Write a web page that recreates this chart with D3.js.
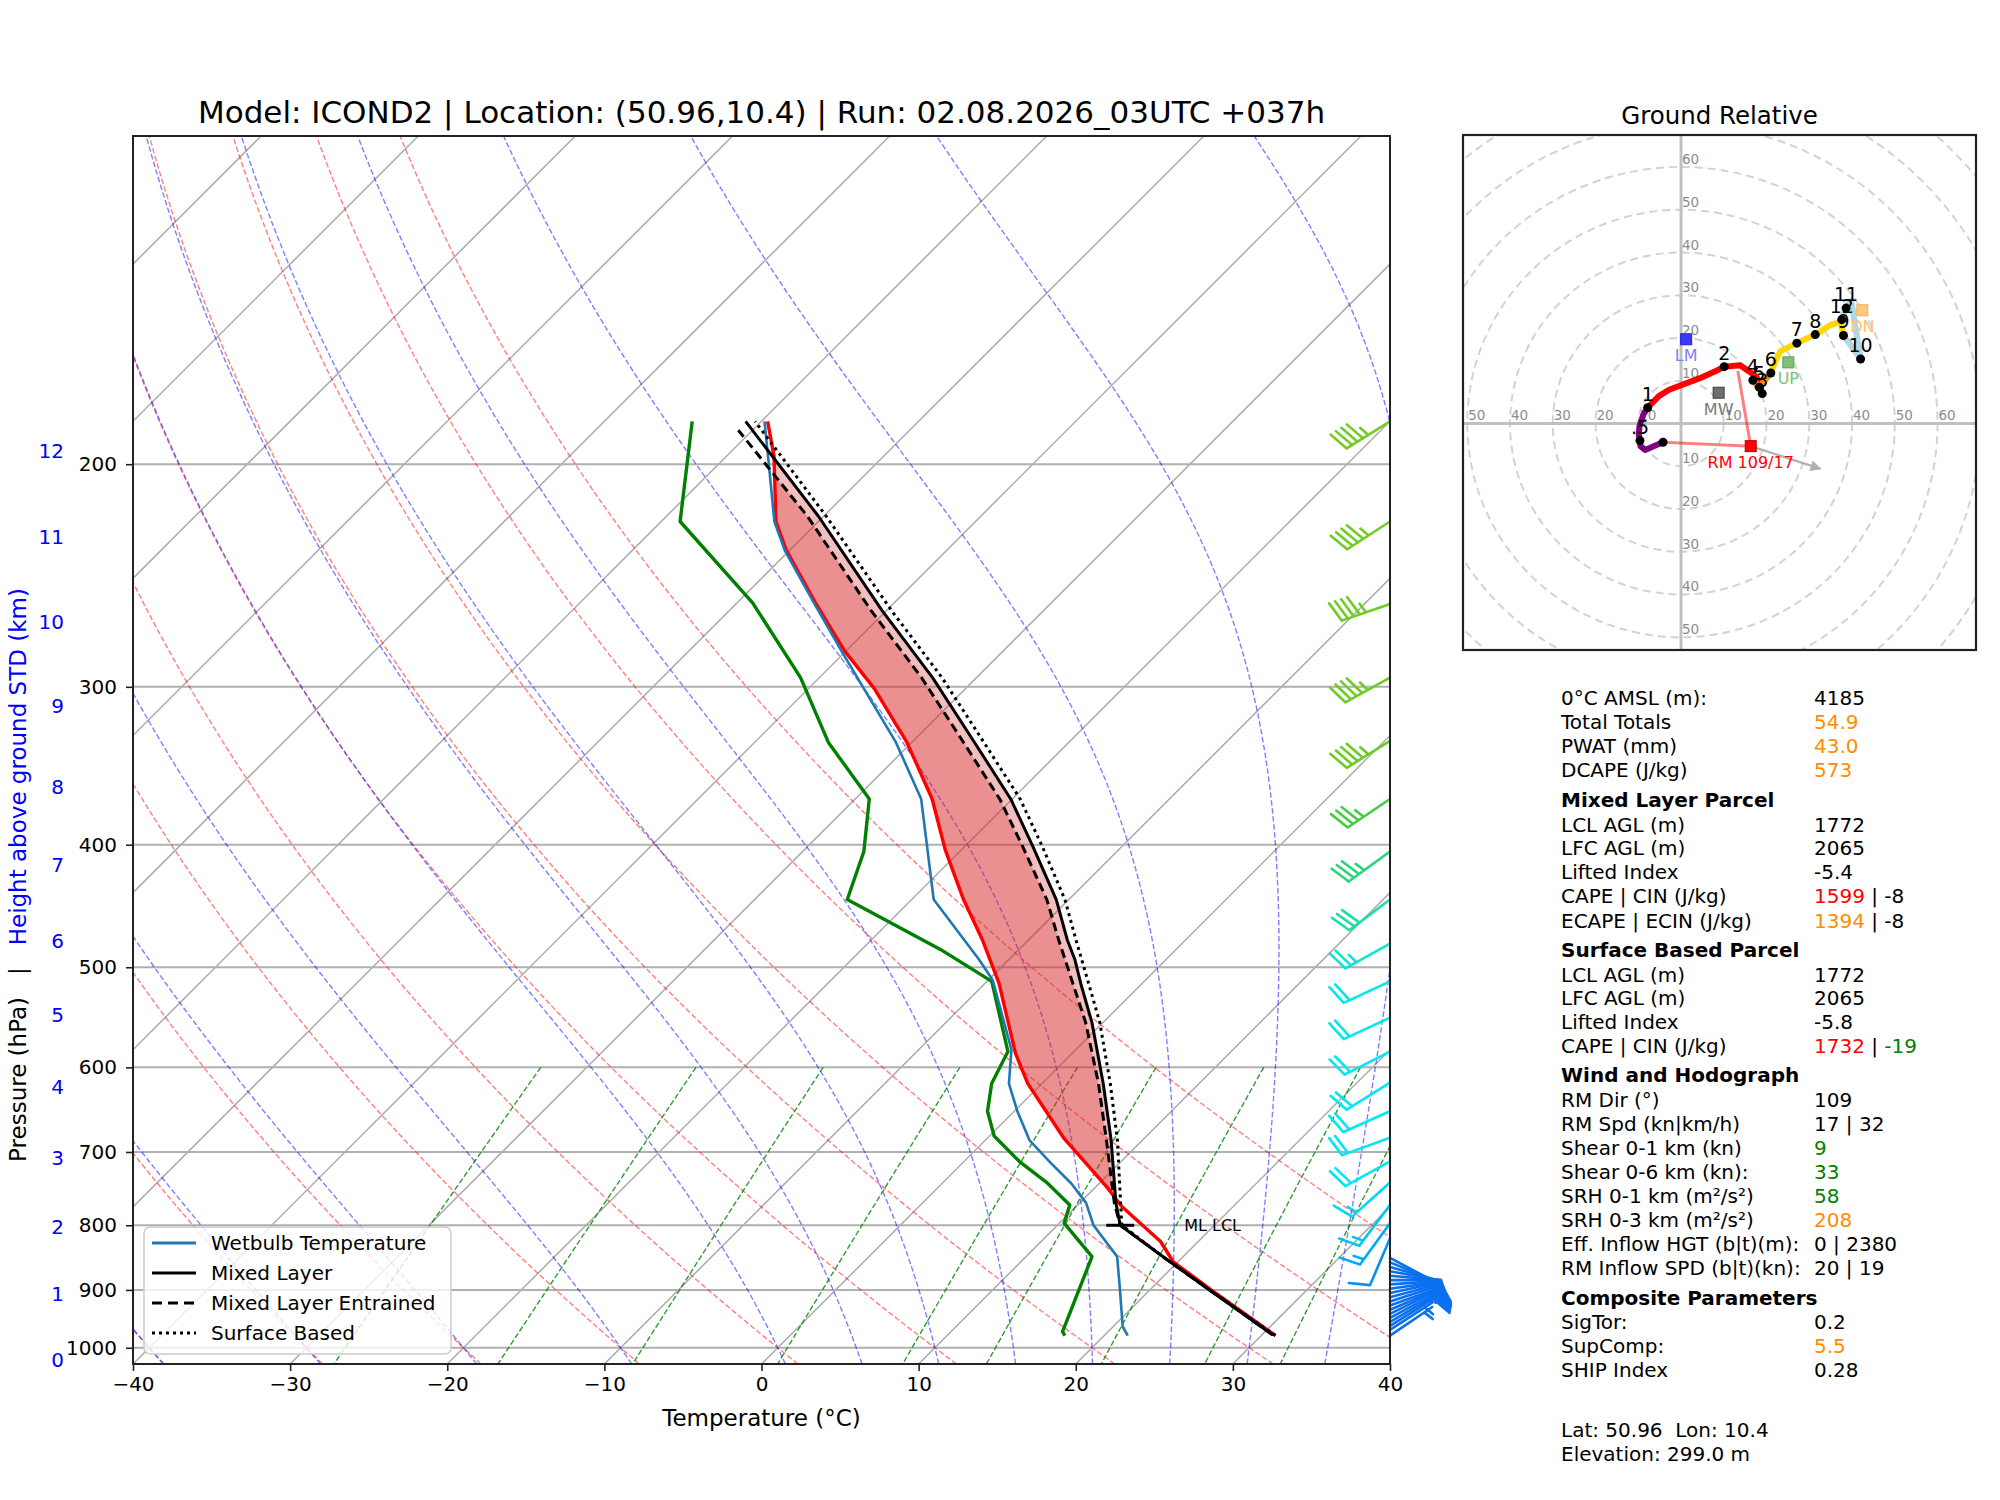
<!DOCTYPE html>
<html>
<head>
<meta charset="utf-8">
<script src="https://cdn.jsdelivr.net/npm/d3@7"></script>
<style>
  body { margin: 0; background: #fff; }
  svg text { font-family: "DejaVu Sans", sans-serif; }
</style>
</head>
<body>
<div class="container"></div>
<script>
const tempP = [978, 900, 855, 824, 773, 746, 683, 618, 585, 515, 476, 442, 404, 368, 332, 301, 281, 257.5, 234, 222, 197, 185];
const tempT = [30.9, 23.9, 19.7, 17.6, 12.9, 10.7, 4.9, -0.9, -3.6, -9.1, -12.9, -16.7, -21.0, -25.1, -30.3, -35.8, -40.1, -45.0, -50.2, -52.7, -57.0, -59.6];

const dewP = [978, 971, 847, 797, 771, 741, 712, 680, 650, 618, 583, 513, 484, 475, 442, 405, 368, 332, 295, 257.5, 222, 185];
const dewT = [17.5, 17.1, 14.2, 10.3, 9.5, 6.7, 3.5, 0.3, -1.7, -3.2, -4.2, -9.7, -15.0, -16.9, -24.1, -26.1, -29.1, -35.3, -41.2, -49.0, -58.8, -64.4];

const wbP = [978, 962, 900, 847, 800, 768, 741, 714, 685, 650, 618, 581, 512, 493, 442, 368, 332, 281, 257.5, 234, 222, 200, 185];
const wbT = [21.5, 20.6, 18.1, 15.8, 12.3, 10.4, 8.2, 5.6, 2.8, 0.2, -2.1, -4.1, -9.7, -11.9, -18.6, -25.8, -31.0, -40.3, -45.1, -50.3, -52.8, -56.8, -59.8];

const mlP = [977, 900, 850, 800, 768, 685, 618, 553, 515, 493, 476, 442, 401, 368, 332, 295, 261, 220, 185];
const mlT = [30.7, 23.8, 19.0, 14.0, 12.3, 8.0, 3.9, -0.7, -3.9, -5.8, -7.5, -10.8, -15.7, -20.1, -26.0, -32.8, -40.3, -50.3, -61.0];

const mlEntP = [977, 900, 850, 800, 768, 685, 618, 553, 515, 476, 442, 401, 368, 332, 295, 261, 220, 188];
const mlEntT = [30.7, 23.8, 19.0, 14.0, 12.2, 7.7, 3.6, -1.1, -4.4, -8.05, -11.4, -16.35, -20.8, -26.7, -33.5, -41.0, -51.0, -60.9];

const sbP = [978, 900, 850, 800, 768, 685, 618, 553, 515, 476, 442, 401, 368, 332, 295, 261, 220, 185];
const sbT = [30.9, 23.8, 19.0, 14.1, 12.6, 8.4, 4.35, -0.2, -3.4, -6.95, -10.25, -15.1, -19.5, -25.4, -32.2, -39.7, -49.8, -60.4];

const mlLcl = [800, 14.0];

const windP = [185, 222, 258, 295, 331, 368, 405, 442, 479, 513, 548, 583, 617, 650, 682, 712, 740, 771, 797, 819,
               849, 856, 863, 870, 877, 884, 891, 898, 905, 912, 919, 926, 933, 940, 947, 954, 961, 968, 978];
const windDir = [238, 237, 251, 241, 238, 236, 234, 233, 241, 245, 245, 243, 238, 246, 250, 241, 228, 217, 216, 203,
                 118, 112, 106, 100, 95, 90, 86, 82, 78, 75, 72, 70, 67, 64, 62, 60, 58, 57, 56];
const windSpd = [45, 45, 45, 45, 45, 35, 35, 30, 25, 20, 20, 20, 20, 20, 20, 20, 15, 15, 15, 10,
                 10, 10, 10, 10, 10, 10, 10, 10, 10, 10, 10, 10, 10, 10, 10, 10, 10, 5, 5];

const heightKm = [0, 1, 2, 3, 4, 5, 6, 7, 8, 9, 10, 11, 12];
const heightP = [1013.25, 898.8, 795.0, 701.1, 616.6, 540.5, 472.2, 411.1, 356.5, 308.0, 264.4, 226.3, 193.3];

const pressureTicks = [200, 300, 400, 500, 600, 700, 800, 900, 1000];
const tempTicks = [-40, -30, -20, -10, 0, 10, 20, 30, 40];

// hodograph (kn)
const hodoH = [0, 0.15, 0.3, 0.4, 0.5, 0.6, 0.7, 0.85, 1, 1.2, 1.4, 1.7, 1.9, 2, 2.3, 2.6, 2.8, 3, 4, 5, 6, 6.3, 6.6, 7, 8, 8.5, 8.8, 9, 10, 10.5, 11, 12];
const hodoU = [-4.2, -6.8, -8.4, -9.5, -9.6, -9.9, -9.7, -8.8, -7.8, -5.2, -2.8, 4.4, 8.0, 10.1, 13.8, 16.2, 17.7, 19.0, 16.8, 18.3, 21.0, 22.0, 23.2, 27.1, 31.4, 34.9, 37.3, 38.0, 42.0, 39.8, 38.6, 37.6];
const hodoV = [-4.4, -5.5, -6.2, -5.3, -4.0, -2.6, -0.5, 2.1, 3.7, 6.4, 7.9, 10.6, 12.2, 13.3, 13.6, 12.0, 10.8, 7.0, 10.1, 8.5, 11.8, 14.4, 16.9, 18.8, 20.8, 23.0, 23.8, 20.6, 15.1, 28.8, 27.0, 24.3];
const hodoDotH = [0, 0.5, 1, 2, 3, 4, 5, 6, 7, 8, 9, 10, 11, 12];
const hodoDotLabel = ['', '.5', '1', '2', '3', '4', '5', '6', '7', '8', '9', '10', '11', '12'];
const hodoLayers = [0, 1, 3, 6, 9, 12];
const hodoColors = ['purple', 'red', 'darkorange', 'gold', 'lightblue'];

const motionNames = ['LM', 'MW', 'UP', 'DN', 'RM'];
const motionU = [1.2, 8.8, 25.1, 42.4, 16.3];
const motionV = [19.7, 7.2, 14.3, 26.5, -5.3];
const rmLabel = 'RM 109/17';
const inflowTop = [13.3, 12.3];

// ---- setup ----
const w = 2000, h = 1500;
const [plotLeft, plotRight, plotTop, plotBottom] = [133, 1390, 136, 1364];

const svg = d3.select('.container').append('svg')
  .attr('width', w).attr('height', h);
svg.append('rect').attr('width', w).attr('height', h).attr('fill', '#fff');

const x = d3.scaleLinear().domain([-40, 40]).range([plotLeft, plotRight]);
const y = d3.scaleLog().domain([1030, 110]).range([plotBottom, plotTop]);
// 45 degree skew in pixel space
const sx = (t, p) => x(t) + (plotBottom - y(p));

const defs = svg.append('defs');
defs.append('clipPath').attr('id', 'plotClip').append('rect')
  .attr('x', plotLeft).attr('y', plotTop)
  .attr('width', plotRight - plotLeft).attr('height', plotBottom - plotTop);

const plot = svg.append('g').attr('clip-path', 'url(#plotClip)');
const skewLine = d3.line().x(d => sx(d[1], d[0])).y(d => y(d[0]));
const zip = (ps, ts) => ps.map((p, i) => [p, ts[i]]);

// background lines
const pGrid = d3.range(0, 81).map(i => 1030 * Math.pow(110 / 1030, i / 80));

// isotherms
d3.range(-140, 41, 10).forEach(t => {
  plot.append('line')
    .attr('x1', sx(t, 1030)).attr('y1', y(1030))
    .attr('x2', sx(t, 110)).attr('y2', y(110))
    .attr('stroke', '#ababab').attr('stroke-width', 1.5);
});
// isobars
pressureTicks.forEach(p => {
  plot.append('line')
    .attr('x1', plotLeft).attr('x2', plotRight)
    .attr('y1', y(p)).attr('y2', y(p))
    .attr('stroke', '#b0b0b0').attr('stroke-width', 2);
});

// dry adiabats
d3.range(-40, 51, 10).forEach(t0 => {
  const pts = pGrid.map(p => [p, (t0 + 273.15) * Math.pow(p / 1000, 0.28571) - 273.15]);
  plot.append('path').attr('d', skewLine(pts)).attr('fill', 'none')
    .attr('stroke', 'red').attr('stroke-opacity', 0.5).attr('stroke-width', 1.4)
    .attr('stroke-dasharray', '5.5,2.5');
});

// moist adiabats (pseudo-adiabatic lapse, RK4 from 1000 hPa)
const Rd = 287.04749, Cpd = 1004.6662, Lv = 2.50084e6, eps = 0.62196;
const satMix = (p, T) => {
  const es = 6.112 * Math.exp(17.67 * (T - 273.15) / (T - 29.65));
  return eps * es / (p - es);
};
const moistDT = (p, T) => {
  const rs = satMix(p, T);
  return (Rd * T + Lv * rs) / (Cpd + Lv * Lv * rs * eps / (Rd * T * T)) / p;
};
const rk4 = (p, T, dp) => {
  const k1 = moistDT(p, T);
  const k2 = moistDT(p + dp / 2, T + dp / 2 * k1);
  const k3 = moistDT(p + dp / 2, T + dp / 2 * k2);
  const k4 = moistDT(p + dp, T + dp * k3);
  return T + dp / 6 * (k1 + 2 * k2 + 2 * k3 + k4);
};
[-40, -30, -20, -10, 0, 5, 10, 15, 20, 25, 30, 35, 40].forEach(t0 => {
  const up = [[1000, t0 + 273.15]];
  let p = 1000, T = t0 + 273.15;
  while (p > 110) { T = rk4(p, T, -5); p -= 5; up.push([p, T]); }
  const down = [];
  p = 1000; T = t0 + 273.15;
  while (p < 1030) { T = rk4(p, T, 5); p += 5; down.push([p, T]); }
  const pts = down.reverse().concat(up).map(d => [d[0], d[1] - 273.15]);
  plot.append('path').attr('d', skewLine(pts)).attr('fill', 'none')
    .attr('stroke', 'blue').attr('stroke-opacity', 0.5).attr('stroke-width', 1.4)
    .attr('stroke-dasharray', '5.5,2.5');
});

// mixing ratio lines
[0.0004, 0.001, 0.002, 0.004, 0.007, 0.01, 0.016, 0.024, 0.032].forEach(wr => {
  const pts = d3.range(0, 41).map(i => {
    const p = 600 + i * (430 / 40);
    const e = p * wr / (eps + wr);
    const l = Math.log(e / 6.112);
    return [p, 243.5 * l / (17.67 - l)];
  });
  plot.append('path').attr('d', skewLine(pts)).attr('fill', 'none')
    .attr('stroke', 'green').attr('stroke-opacity', 0.8).attr('stroke-width', 1.4)
    .attr('stroke-dasharray', '5.5,2.5');
});

// CAPE shading
const interp = (ps, ts) => p => {
  for (let i = 0; i < ps.length - 1; i++) {
    if (p <= ps[i] && p >= ps[i + 1]) {
      const f = Math.log(ps[i] / p) / Math.log(ps[i] / ps[i + 1]);
      return ts[i] + f * (ts[i + 1] - ts[i]);
    }
  }
  return null;
};
const envT = interp(tempP, tempT);
const shade = (ps, ts) => {
  const parcel = interp(ps, ts);
  const top = ps[ps.length - 1];
  const grid = d3.range(0, 401).map(i => 800 * Math.pow(top / 800, i / 400));
  const rows = grid.map(p => ({ p, te: envT(p), tp: parcel(p) }));
  const area = d3.area()
    .y(d => y(d.p))
    .x0(d => sx(d.te, d.p))
    .x1(d => sx(Math.max(d.te, d.tp), d.p));
  plot.append('path').attr('d', area(rows))
    .attr('fill', '#d62728').attr('fill-opacity', 0.3);
};
shade(mlP, mlT);
shade(mlEntP, mlEntT);

// profiles
const drawProfile = (ps, ts, color, width, dash) => {
  const path = plot.append('path').attr('d', skewLine(zip(ps, ts)))
    .attr('fill', 'none').attr('stroke', color).attr('stroke-width', width)
    .attr('stroke-linejoin', 'round');
  if (dash) path.attr('stroke-dasharray', dash);
};
drawProfile(tempP, tempT, 'red', 3.4);
drawProfile(dewP, dewT, 'green', 3.4);
drawProfile(wbP, wbT, '#1f77b4', 2.6);
drawProfile(mlP, mlT, 'black', 3);
drawProfile(mlEntP, mlEntT, 'black', 3, '9,5');
drawProfile(sbP, sbT, 'black', 3, '3,4');

// ML LCL marker
svg.append('line')
  .attr('x1', sx(mlLcl[1], mlLcl[0]) - 14).attr('x2', sx(mlLcl[1], mlLcl[0]) + 14)
  .attr('y1', y(mlLcl[0])).attr('y2', y(mlLcl[0]))
  .attr('stroke', 'black').attr('stroke-width', 3);
svg.append('text').attr('x', sx(mlLcl[1], mlLcl[0]) + 64).attr('y', y(mlLcl[0]) + 6)
  .attr('font-size', 16).text('ML LCL');

// wind barbs
const barbColor = d3.scaleLinear()
  .domain([185, 331, 368, 405, 442, 479, 513, 712, 740, 771, 797, 819, 849, 978])
  .range(['#74cc26', '#6ccc26', '#46cc44', '#2ad47a', '#1cdca8', '#0ee4d0', '#00e8ec', '#00e8f4',
          '#00d8f8', '#00c4f8', '#00aaf8', '#0890f0', '#0a70f0', '#0a70f0']);
const drawBarb = (bx, by, dir, spd, color) => {
  const L = 51, fullH = 0.4 * L, spacing = 0.125 * L, halfW = 0.125 * L;
  const r = dir * Math.PI / 180;
  const s = [Math.sin(r), -Math.cos(r)];
  const n = [-s[1], s[0]];
  const at = (o, hgt, out) => [bx + s[0] * (o + out) + n[0] * hgt, by + s[1] * (o + out) + n[1] * hgt];
  let v = Math.round(spd / 5) * 5;
  const flags = Math.floor(v / 50); v -= flags * 50;
  const fulls = Math.floor(v / 10); v -= fulls * 10;
  const half = v >= 5;
  let d = `M${bx},${by}L${at(L, 0, 0)}`;
  let o = L;
  for (let i = 0; i < fulls; i++) {
    d += `M${at(o, 0, 0)}L${at(o, fullH, halfW)}`;
    o -= spacing;
  }
  if (half) {
    if (o === L) o -= 1.5 * spacing;
    d += `M${at(o, 0, 0)}L${at(o, fullH / 2, halfW / 2)}`;
  }
  svg.append('path').attr('d', d).attr('fill', 'none').attr('stroke', color)
    .attr('stroke-width', 2.6).attr('stroke-linecap', 'round');
};
windP.forEach((p, i) => drawBarb(plotRight, y(p), windDir[i], windSpd[i], barbColor(p)));

// axes frame
svg.append('rect').attr('x', plotLeft).attr('y', plotTop)
  .attr('width', plotRight - plotLeft).attr('height', plotBottom - plotTop)
  .attr('fill', 'none').attr('stroke', '#222').attr('stroke-width', 2);

const xAxis = svg.append('g').attr('transform', `translate(0,${plotBottom})`)
  .call(d3.axisBottom(x).tickValues(tempTicks).tickSize(7).tickPadding(6));
const yAxis = svg.append('g').attr('transform', `translate(${plotLeft},0)`)
  .call(d3.axisLeft(y).tickValues(pressureTicks).tickFormat(d3.format('d')).tickSize(7).tickPadding(9));
[xAxis, yAxis].forEach(g => {
  g.select('.domain').remove();
  g.selectAll('line').attr('stroke', '#222').attr('stroke-width', 1.6);
  g.selectAll('text').attr('font-size', 20).attr('fill', '#000')
    .style('font-family', '"DejaVu Sans", sans-serif');
});

svg.append('text').attr('x', (plotLeft + plotRight) / 2).attr('y', 1426)
  .attr('text-anchor', 'middle').attr('font-size', 23).text('Temperature (°C)');

// height labels
svg.selectAll('.hlab').data(heightKm).enter().append('text')
  .attr('x', 64).attr('y', (d, i) => y(heightP[i]) + 12)
  .attr('text-anchor', 'end').attr('font-size', 20).attr('fill', 'blue')
  .text(d => d);

const ylab = svg.append('text').attr('transform', 'translate(26,875) rotate(-90)')
  .attr('text-anchor', 'middle').attr('font-size', 23).attr('xml:space', 'preserve');
ylab.append('tspan').text('Pressure (hPa)   |   ');
ylab.append('tspan').attr('fill', 'blue').text('Height above ground STD (km)');

svg.append('text').attr('x', (plotLeft + plotRight) / 2).attr('y', 123)
  .attr('text-anchor', 'middle').attr('font-size', 31)
  .text('Model: ICOND2 | Location: (50.96,10.4) | Run: 02.08.2026_03UTC +037h');

// legend
const legend = svg.append('g');
legend.append('rect').attr('x', 144).attr('y', 1227).attr('width', 307).attr('height', 127)
  .attr('rx', 6).attr('fill', '#fff').attr('fill-opacity', 0.8)
  .attr('stroke', '#cccccc').attr('stroke-width', 1.5);
const legendItems = [
  ['Wetbulb Temperature', '#1f77b4', null],
  ['Mixed Layer', 'black', null],
  ['Mixed Layer Entrained', 'black', '10,6'],
  ['Surface Based', 'black', '3,4']
];
legendItems.forEach((it, i) => {
  const ly = 1243 + i * 30;
  const ln = legend.append('line').attr('x1', 152).attr('x2', 196).attr('y1', ly).attr('y2', ly)
    .attr('stroke', it[1]).attr('stroke-width', 3);
  if (it[2]) ln.attr('stroke-dasharray', it[2]);
  legend.append('text').attr('x', 211).attr('y', ly + 7).attr('font-size', 20).text(it[0]);
});

// ---- hodograph ----
const [hLeft, hRight, hTop, hBottom] = [1463, 1976, 135, 650];
const hx = d3.scaleLinear().domain([-51, 69]).range([hLeft, hRight]);
const hy = d3.scaleLinear().domain([-53, 67.5]).range([hBottom, hTop]);
const kpx = hx(1) - hx(0);
defs.append('clipPath').attr('id', 'hodoClip').append('rect')
  .attr('x', hLeft).attr('y', hTop).attr('width', hRight - hLeft).attr('height', hBottom - hTop);
const hodo = svg.append('g').attr('clip-path', 'url(#hodoClip)');

d3.range(10, 91, 10).forEach(r => {
  hodo.append('circle').attr('cx', hx(0)).attr('cy', hy(0)).attr('r', r * kpx)
    .attr('fill', 'none').attr('stroke', '#d3d3d3').attr('stroke-width', 2)
    .attr('stroke-dasharray', '8,5');
});
hodo.append('line').attr('x1', hLeft).attr('x2', hRight).attr('y1', hy(0)).attr('y2', hy(0))
  .attr('stroke', '#c0c0c0').attr('stroke-width', 3);
hodo.append('line').attr('x1', hx(0)).attr('x2', hx(0)).attr('y1', hTop).attr('y2', hBottom)
  .attr('stroke', '#c0c0c0').attr('stroke-width', 3);
d3.range(10, 61, 10).forEach(r => {
  [[r, 0], [-r, 0], [0, r], [0, -r]].forEach(([u, v]) => {
    if (u < -51 || v < -53) return;
    hodo.append('text').attr('x', hx(u) + 1).attr('y', hy(v) - 3)
      .attr('font-size', 13.5).attr('fill', '#8c8c8c').text(r);
  });
});

// inflow lines
const rm = [motionU[4], motionV[4]];
const hodoLine = d3.line().x(d => hx(d[0])).y(d => hy(d[1]));
hodo.append('path').attr('d', hodoLine([[hodoU[0], hodoV[0]], rm, inflowTop]))
  .attr('fill', 'none').attr('stroke', 'red').attr('stroke-opacity', 0.5).attr('stroke-width', 3);

const hodoPts = hodoH.map((hh, i) => [hodoU[i], hodoV[i], hh]);
hodoColors.forEach((c, k) => {
  const seg = hodoPts.filter(d => d[2] >= hodoLayers[k] && d[2] <= hodoLayers[k + 1]);
  hodo.append('path').attr('d', hodoLine(seg)).attr('fill', 'none')
    .attr('stroke', c).attr('stroke-width', 6)
    .attr('stroke-linejoin', 'round').attr('stroke-linecap', 'round');
});

hodoDotH.forEach((hh, i) => {
  const j = hodoH.indexOf(hh);
  const px = hx(hodoU[j]), py = hy(hodoV[j]);
  hodo.append('circle').attr('cx', px).attr('cy', py).attr('r', 4.5).attr('fill', 'black');
  hodo.append('text').attr('x', px).attr('y', py - 7).attr('text-anchor', 'middle')
    .attr('font-size', 19).text(hodoDotLabel[i]);
});

// storm motion arrow
const arrowEnd = [rm[0] * 2, rm[1] * 2];
defs.append('marker').attr('id', 'arrowHead').attr('viewBox', '0 0 10 10')
  .attr('refX', 9).attr('refY', 5).attr('markerWidth', 5).attr('markerHeight', 5)
  .attr('orient', 'auto').append('path').attr('d', 'M0,0L10,5L0,10z').attr('fill', '#b0b0b0');
hodo.append('line').attr('x1', hx(rm[0])).attr('y1', hy(rm[1]))
  .attr('x2', hx(arrowEnd[0])).attr('y2', hy(arrowEnd[1]))
  .attr('stroke', '#b0b0b0').attr('stroke-width', 2.2).attr('marker-end', 'url(#arrowHead)');

const motionFill = ['#3a3aff', '#6e6e6e', '#7cc07c', '#ffc880', 'red'];
const motionEdge = ['#2020d0', '#404040', '#5aa05a', '#f0b060', '#c00000'];
const motionText = ['#8080ff', '#7a7a7a', '#78c078', '#ffc070', 'red'];
motionNames.forEach((nm, i) => {
  const px = hx(motionU[i]), py = hy(motionV[i]);
  hodo.append('rect').attr('x', px - 5.5).attr('y', py - 5.5).attr('width', 11).attr('height', 11)
    .attr('fill', motionFill[i]).attr('stroke', motionEdge[i]).attr('stroke-width', 1);
  hodo.append('text').attr('x', px).attr('y', py + 22).attr('text-anchor', 'middle')
    .attr('font-size', 16).attr('fill', motionText[i]).text(nm === 'RM' ? rmLabel : nm);
});

svg.append('rect').attr('x', hLeft).attr('y', hTop).attr('width', hRight - hLeft).attr('height', hBottom - hTop)
  .attr('fill', 'none').attr('stroke', '#222').attr('stroke-width', 2.2);
svg.append('text').attr('x', (hLeft + hRight) / 2).attr('y', 124).attr('text-anchor', 'middle')
  .attr('font-size', 24.5).text('Ground Relative');

// ---- parameter table ----
const orange = '#ff8c00', red = '#ff0000', green = '#008000', black = '#000';
const tableRows = [
  [705, '0°C AMSL (m):', [['4185', black]]],
  [729, 'Total Totals', [['54.9', orange]]],
  [753, 'PWAT (mm)', [['43.0', orange]]],
  [777, 'DCAPE (J/kg)', [['573', orange]]],
  [806.5, 'Mixed Layer Parcel', null],
  [831.5, 'LCL AGL (m)', [['1772', black]]],
  [855, 'LFC AGL (m)', [['2065', black]]],
  [879, 'Lifted Index', [['-5.4', black]]],
  [903, 'CAPE | CIN (J/kg)', [['1599', red], [' | -8', black]]],
  [927.5, 'ECAPE | ECIN (J/kg)', [['1394', orange], [' | -8', black]]],
  [957, 'Surface Based Parcel', null],
  [981.5, 'LCL AGL (m)', [['1772', black]]],
  [1005, 'LFC AGL (m)', [['2065', black]]],
  [1029, 'Lifted Index', [['-5.8', black]]],
  [1053, 'CAPE | CIN (J/kg)', [['1732', red], [' | ', black], ['-19', green]]],
  [1081.5, 'Wind and Hodograph', null],
  [1107, 'RM Dir (°)', [['109', black]]],
  [1131, 'RM Spd (kn|km/h)', [['17 | 32', black]]],
  [1155, 'Shear 0-1 km (kn)', [['9', green]]],
  [1178.5, 'Shear 0-6 km (kn):', [['33', green]]],
  [1202.5, 'SRH 0-1 km (m²/s²)', [['58', green]]],
  [1226.5, 'SRH 0-3 km (m²/s²)', [['208', orange]]],
  [1251, 'Eff. Inflow HGT (b|t)(m):', [['0 | 2380', black]]],
  [1275, 'RM Inflow SPD (b|t)(kn):', [['20 | 19', black]]],
  [1305, 'Composite Parameters', null],
  [1329, 'SigTor:', [['0.2', black]]],
  [1353, 'SupComp:', [['5.5', orange]]],
  [1377, 'SHIP Index', [['0.28', black]]],
  [1437, 'Lat: 50.96  Lon: 10.4', []],
  [1461, 'Elevation: 299.0 m', []]
];
const table = svg.append('g').attr('font-size', 20);
tableRows.forEach(([ty, label, parts]) => {
  const t = table.append('text').attr('x', 1561).attr('y', ty).attr('xml:space', 'preserve').text(label);
  if (parts === null) { t.attr('font-weight', 'bold'); return; }
  if (!parts.length) return;
  const v = table.append('text').attr('x', 1814).attr('y', ty).attr('xml:space', 'preserve');
  parts.forEach(([s, c]) => v.append('tspan').attr('fill', c).text(s));
});
</script>
</body>
</html>
